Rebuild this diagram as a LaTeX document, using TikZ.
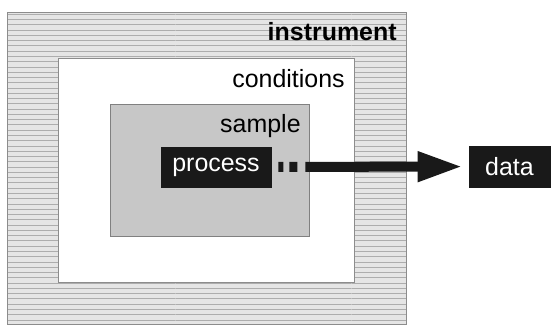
\documentclass[tikz,border=0pt]{standalone}
\usepackage{fontspec}
\setmainfont{Liberation Sans}
\usetikzlibrary{patterns,arrows.meta}

\begin{document}
\begin{tikzpicture}[x=0.02cm, y=-0.02cm,
    every node/.style={font=\fontsize{14.2}{17}\selectfont},
    box/.style={draw, rectangle, inner sep=0pt},
    blackbox/.style={box, draw=black!90, fill=black!90, text=white}]
  \useasboundingbox (0,0) rectangle (560,326);
  % nested boxes
  \node[box, draw=black!45, preaction={fill=black!10}, pattern=horizontal lines,
        pattern color=black!32, minimum width=7.98cm, minimum height=6.24cm] (instrument) at (206.5,168) {};
  \node[box, draw=black!45, fill=white, minimum width=5.92cm, minimum height=4.48cm] (conditions) at (206,170) {};
  \node[box, draw=black!50, fill=black!22, minimum width=3.98cm, minimum height=2.64cm] (sample) at (209.5,170) {};
  % labels
  \node[anchor=base east, inner sep=0pt, font=\fontsize{14.2}{17}\selectfont\bfseries] (instrumentlabel) at (397,40) {instrument};
  \node[anchor=base east, inner sep=0pt] (conditionslabel) at (345,87) {conditions};
  \node[anchor=base east, inner sep=0pt] (samplelabel) at (301,132) {sample};
  % process and data
  \node[blackbox, minimum width=2.2cm, minimum height=0.8cm] (process) at (216,167) {process};
  \node[blackbox, minimum width=1.62cm, minimum height=0.82cm] (data) at (509.5,166.5) {data};
  \draw[line width=0.2cm, black!90, shorten <=0.14cm, shorten >=0.12cm,
        dash pattern=on 0.1cm off 0.12cm on 0.16cm off 0.16cm on 20cm,
        -{Triangle[length=0.9cm, width=0.56cm]}] (process) -- (data);
\end{tikzpicture}
\end{document}
